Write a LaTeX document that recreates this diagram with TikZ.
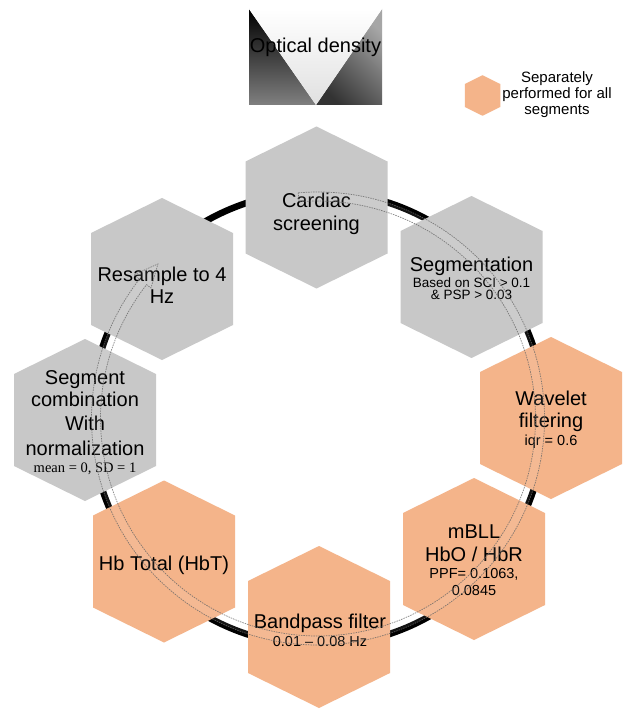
\documentclass[tikz,border=0pt]{standalone}
\usepackage{fontspec}
\setmainfont{Liberation Sans}
\newfontfamily\tnrfont{Liberation Serif}
\usetikzlibrary{calc}
\definecolor{hexgray}{HTML}{C8C8C8}
\definecolor{hexorange}{HTML}{F4B48A}
\newcommand\bigtxt{\fontsize{20}{23}\selectfont}
\newcommand\smalltxt{\fontsize{14.5}{16}\selectfont}
\newcommand\tinytxt{\fontsize{13.5}{14}\selectfont}
\newcommand\legtxt{\fontsize{15}{16}\selectfont}
\newcommand\hexa[2]{\fill[#2] (#1) ++(0,-81) -- ++(71,35) -- ++(0,92) -- ++(-71,35) -- ++(-71,-35) -- ++(0,-92) -- cycle;}
\begin{document}
\begin{tikzpicture}[x=1pt,y=-1pt,
  lbl/.style={inner sep=0pt, anchor=base, font=\bigtxt},
  sub/.style={inner sep=0pt, anchor=base, font=\smalltxt},
  leg/.style={inner sep=0pt, anchor=base, font=\legtxt},
  ring/.style={line width=6.5pt, black},
  band/.style={draw=black!60, line width=0.7pt, dash pattern=on 1.5pt off 1pt, draw opacity=0.8, fill=white, fill opacity=0.08}]
\useasboundingbox (0,0) rectangle (625,711);
\fill[white] (0,0) rectangle (625,711);

% centres
\coordinate (ctr) at (318,418.5);
\coordinate (card) at (316.5,207.5);
\coordinate (segm) at (471.5,277);
\coordinate (wave) at (551,418);
\coordinate (mbll) at (474,559);
\coordinate (band) at (319,627);
\coordinate (hbt) at (164,561.5);
\coordinate (comb) at (85,420);
\coordinate (resa) at (162,279);

% ring
\draw[ring] (ctr) circle[radius=227];

% hexagons
\hexa{card}{hexgray}
\hexa{segm}{hexgray}
\hexa{wave}{hexorange}
\hexa{mbll}{hexorange}
\hexa{band}{hexorange}
\hexa{hbt}{hexorange}
\hexa{comb}{hexgray}
\hexa{resa}{hexgray}

% texts
\node[lbl] (t1a) at (316.5,207.3) {Cardiac};
\node[lbl] (t1b) at (316.5,230) {screening};

\node[lbl] (t2a) at (471.5,271.5) {Segmentation};
\node[sub, font=\tinytxt] (t2b) at (471.5,287) {Based on SCI > 0.1};
\node[sub, font=\tinytxt] (t2c) at (471.5,299.8) {\& PSP > 0.03};

\node[lbl] (t3a) at (551,405) {Wavelet};
\node[lbl] (t3b) at (551,427.3) {filtering};
\node[sub] (t3c) at (551,445.7) {iqr = 0.6};

\node[lbl] (t4a) at (474,538.3) {mBLL};
\node[lbl] (t4b) at (474,561) {HbO / HbR};
\node[sub] (t4c) at (474,578.3) {PPF= 0.1063,};
\node[sub] (t4d) at (474,595.5) {0.0845};

\node[lbl] (t5a) at (320,628.3) {Bandpass filter};
\node[sub] (t5b) at (320,646) {0.01 – 0.08 Hz};

\node[lbl] (t6a) at (164,570) {Hb Total (HbT)};

\node[lbl] (t7a) at (85,384.3) {Segment};
\node[lbl] (t7b) at (85,406.7) {combination};
\node[lbl] (t7c) at (85,430) {With};
\node[lbl] (t7d) at (85,455) {normalization};
\node[sub, font=\tnrfont\fontsize{14.5}{16}\selectfont] (t7e) at (85,472.7) {mean = 0, SD = 1};

\node[lbl] (t8a) at (162,281.5) {Resample to 4};
\node[lbl] (t8b) at (162,303) {Hz};

% circular arrow band
\path[band] ($(ctr)+(-95:226.5)$) arc[start angle=-95, end angle=218, radius=226.5]
  -- ($(ctr)+(218:233.5)$) -- ($(ctr)+(224:222.5)$) -- ($(ctr)+(218:212)$)
  -- ($(ctr)+(218:217.5)$) arc[start angle=218, end angle=-95, radius=217.5] -- cycle;

% optical density box
\shade[top color=black, bottom color=black!50] (249,9) -- (316,105) -- (249,105) -- cycle;
\shade[top color=black!35, bottom color=black!80, shading angle=-45] (382,9) -- (382,105) -- (316,105) -- cycle;
\shade[top color=white, bottom color=black!12] (249,9) -- (382,9) -- (316,105) -- cycle;
\node[lbl] (od) at (315.5,53) {Optical density};

% legend
\coordinate (lg) at (482.5,95.5);
\fill[hexorange] (lg) ++(0,-20.25) -- ++(17.75,8.75) -- ++(0,23) -- ++(-17.75,8.75) -- ++(-17.75,-8.75) -- ++(0,-23) -- cycle;
\node[leg] (l1) at (557,83) {Separately};
\node[leg] (l2) at (557,99) {performed for all};
\node[leg] (l3) at (557,115) {segments};
\end{tikzpicture}
\end{document}
